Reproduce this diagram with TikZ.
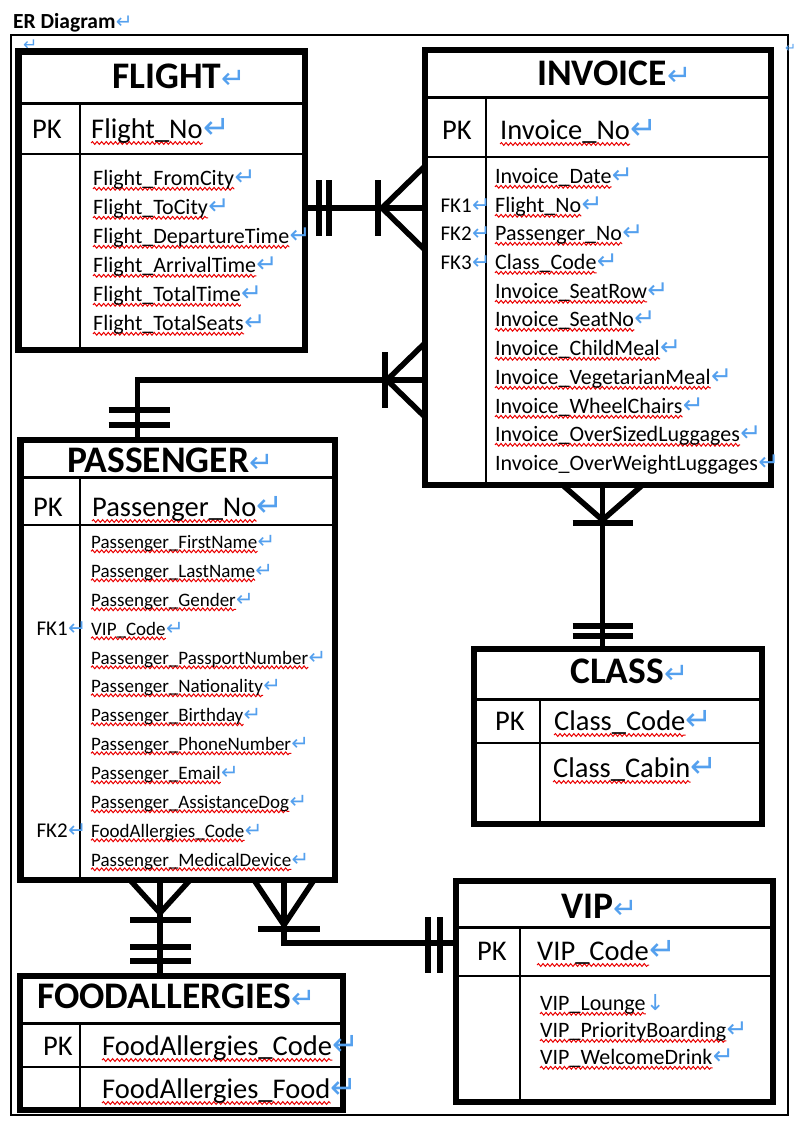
\documentclass[tikz,border=0pt]{standalone}
\usepackage{fontspec}
\setmainfont{Carlito}
\newfontfamily\retfont{DejaVu Sans}
\usetikzlibrary{calc, decorations.pathmorphing}
\definecolor{retcol}{RGB}{84, 160, 238}
\definecolor{wavecol}{RGB}{235, 0, 0}
\tikzset{
  ent/.style   = {draw, fill=white, line width=6.5pt, inner sep=0pt, outer sep=0pt},
  rule/.style  = {line width=1.8pt},
  headrule/.style = {line width=3pt},
  rel/.style   = {line width=5.5pt},
  txt/.style   = {anchor=base west, inner sep=0pt, text depth=0pt},
  ttl/.style   = {txt, font=\fontsize{37.5}{40}\selectfont\bfseries},
  pkt/.style   = {txt, font=\fontsize{28.5}{32}\selectfont},
  att/.style   = {txt, font=\fontsize{22}{26}\selectfont},
  patt/.style  = {txt, font=\fontsize{19}{22}\selectfont},
  fk/.style    = {txt, anchor=base east, font=\fontsize{21}{24}\selectfont},
  squig/.style = {draw=wavecol, line width=1pt, decorate,
                  decoration={snake, amplitude=1.4pt, segment length=4.6pt}},
  % red spell-check line under a field name
  wavy/.style  = {append after command={\pgfextra{
                    \draw[squig] ([yshift=-#1]\tikzlastnode.base west)
                                 -- ([yshift=-#1]\tikzlastnode.base east);}}},
  % blue paragraph mark after a text
  ret/.style   = {append after command={\pgfextra{
                    \node[anchor=base west, inner sep=0pt, text=retcol,
                          font=\retfont\fontsize{#1}{#1}\selectfont]
                         at (\tikzlastnode.base east) {↵};}}},
  brk/.style   = {append after command={\pgfextra{
                    \node[anchor=base west, inner sep=0pt, text=retcol,
                          font=\retfont\fontsize{#1}{#1}\selectfont]
                         at (\tikzlastnode.base east) {↓};}}},
}

\begin{document}
\begin{tikzpicture}[x=1pt, y=-1pt]
  \useasboundingbox (0,0) rectangle (798,1122);

  %% ---------------- page frame ----------------
  \node[txt, font=\fontsize{21.5}{24}\selectfont\bfseries, ret=20] (heading) at (13,28) {ER Diagram};
  \draw[line width=1.5pt] (11,35) rectangle (788,1115);
  \node[txt, text=retcol, font=\retfont\fontsize{17}{17}\selectfont] (markl) at (23,50) {↵};
  \node[txt, text=retcol, font=\retfont\fontsize{13}{13}\selectfont] (markr) at (785,52) {↵};

  %% ---------------- relationships ----------------
  \coordinate (fi) at (0,208);
  \coordinate (ip) at (137.5,380);
  \coordinate (ic) at (602.5,0);
  \coordinate (pf) at (160,0);
  \coordinate (pv) at (284,943);

  \node[ent, minimum width=286.5pt, minimum height=298.5pt] (flight) at (161.75,200.75) {};
  \node[ent, minimum width=346pt, minimum height=435pt] (invoice) at (598,267.5) {};
  \node[ent, minimum width=314.5pt, minimum height=440pt] (passenger) at (177.75,660) {};
  \node[ent, minimum width=288pt, minimum height=175pt] (class) at (618,736.5) {};
  \node[ent, minimum width=317pt, minimum height=221pt] (vip) at (614.5,991.5) {};
  \node[ent, minimum width=323pt, minimum height=134pt] (food) at (181.5,1043) {};

  % flight -- invoice
  \draw[rel] (flight.east |- fi) -- (invoice.west |- fi);
  \draw[rel] ($(flight.east |- fi)+(14,-28)$) -- ++(0,56);
  \draw[rel] ($(flight.east |- fi)+(24,-28)$) -- ++(0,56);
  \draw[rel] ($(invoice.west |- fi)+(-47,-28)$) -- ++(0,56);
  \draw[rel] ($(invoice.west |- fi)+(0,-42)$) -- ++(-43,42) -- ++(43,42);

  % invoice -- passenger
  \draw[rel] (invoice.west |- ip) -- (ip) -- (ip |- passenger.north);
  \draw[rel] ($(invoice.west |- ip)+(-40,-28)$) -- ++(0,56);
  \draw[rel] ($(invoice.west |- ip)+(0,-37)$) -- ++(-38,37) -- ++(38,37);
  \draw[rel] ($(ip |- passenger.north)+(-29,-30)$) -- ++(61,0);
  \draw[rel] ($(ip |- passenger.north)+(-29,-15)$) -- ++(61,0);

  % invoice -- class
  \draw[rel] (ic |- invoice.south) -- (ic |- class.north);
  \draw[rel] ($(ic |- invoice.south)+(-40,0)$) -- ++(40,35) -- ++(40,-35);
  \draw[rel] ($(ic |- invoice.south)+(-30,38)$) -- ++(60,0);
  \draw[rel] ($(ic |- class.north)+(-30,-23)$) -- ++(60,0);
  \draw[rel] ($(ic |- class.north)+(-30,-13)$) -- ++(60,0);

  % passenger -- foodallergies
  \draw[rel] (pf |- passenger.south) -- (pf |- food.north);
  \draw[rel] ($(pf |- passenger.south)+(-30,0)$) -- ++(30,33) -- ++(30,-33);
  \draw[rel] ($(pf |- passenger.south)+(-30,40)$) -- ++(61,0);
  \draw[rel] ($(pf |- food.north)+(-30,-29)$) -- ++(61,0);
  \draw[rel] ($(pf |- food.north)+(-30,-15)$) -- ++(61,0);

  % passenger -- vip
  \draw[rel] (pv |- passenger.south) -- (pv) -- (vip.west |- pv);
  \draw[rel] ($(pv |- passenger.south)+(-30,0)$) -- ++(30,45) -- ++(30,-45);
  \draw[rel] ($(pv |- passenger.south)+(-26,49)$) -- ++(62,0);
  \draw[rel] ($(vip.west |- pv)+(-28,-26)$) -- ++(0,56);
  \draw[rel] ($(vip.west |- pv)+(-16,-26)$) -- ++(0,56);

  %% ---------------- tables, redrawn on top ----------------
  \draw[ent] (flight.north west) rectangle (flight.south east);
  \draw[ent] (invoice.north west) rectangle (invoice.south east);
  \draw[ent] (passenger.north west) rectangle (passenger.south east);
  \draw[ent] (class.north west) rectangle (class.south east);
  \draw[ent] (vip.north west) rectangle (vip.south east);
  \draw[ent] (food.north west) rectangle (food.south east);

  \draw[headrule] (18.5,103) -- (305,103);
  \draw[rule] (18.5,154) -- (305,154);
  \draw[rule] (80,103) -- (80,350);

  \draw[headrule] (425,97) -- (771,97);
  \draw[rule] (425,157) -- (771,157);
  \draw[rule] (486,97) -- (486,485);

  \draw[headrule] (20.5,477) -- (335,477);
  \draw[rule] (20.5,525) -- (335,525);
  \draw[rule] (80,477) -- (80,880);

  \draw[headrule] (474,699) -- (762,699);
  \draw[rule] (474,743) -- (762,743);
  \draw[rule] (540,699) -- (540,824);

  \draw[headrule] (456,927) -- (773,927);
  \draw[rule] (456,976) -- (773,976);
  \draw[rule] (520,927) -- (520,1102);

  \draw[headrule] (20,1023) -- (343,1023);
  \draw[rule] (20,1067) -- (343,1067);
  \draw[rule] (80,1023) -- (80,1110);

  %% ---------------- FLIGHT ----------------
  \node[ttl, ret=29] (flight-t) at (112,88) {FLIGHT};
  \node[pkt] (flight-pk) at (32,138) {PK};
  \node[pkt, wavy=5, ret=32] (flight-id) at (91,138) {Flight\_No};
  \node[att, wavy=3.8, ret=25] (flight-a1) at (93,185) {Flight\_FromCity};
  \node[att, wavy=3.8, ret=25] (flight-a2) at (93,214) {Flight\_ToCity};
  \node[att, wavy=3.8, ret=25] (flight-a3) at (93,243) {Flight\_DepartureTime};
  \node[att, wavy=3.8, ret=25] (flight-a4) at (93,272) {Flight\_ArrivalTime};
  \node[att, wavy=3.8, ret=25] (flight-a5) at (93,301) {Flight\_TotalTime};
  \node[att, wavy=3.8, ret=25] (flight-a6) at (93,330) {Flight\_TotalSeats};

  %% ---------------- INVOICE ----------------
  \node[ttl, ret=29] (invoice-t) at (537,85) {INVOICE};
  \node[pkt] (invoice-pk) at (442,139) {PK};
  \node[pkt, wavy=5, ret=32] (invoice-id) at (500,139) {Invoice\_No};
  \node[att, wavy=3.8, ret=25] (invoice-a1) at (495,183) {Invoice\_Date};
  \node[fk, ret=22] (invoice-fk1) at (472,212) {FK1};
  \node[att, wavy=3.8, ret=25] (invoice-a2) at (495,212) {Flight\_No};
  \node[fk, ret=22] (invoice-fk2) at (472,240) {FK2};
  \node[att, wavy=3.8, ret=25] (invoice-a3) at (495,240) {Passenger\_No};
  \node[fk, ret=22] (invoice-fk3) at (472,269) {FK3};
  \node[att, wavy=3.8, ret=25] (invoice-a4) at (495,269) {Class\_Code};
  \node[att, wavy=3.8, ret=25] (invoice-a5) at (495,298) {Invoice\_SeatRow};
  \node[att, wavy=3.8, ret=25] (invoice-a6) at (495,326) {Invoice\_SeatNo};
  \node[att, wavy=3.8, ret=25] (invoice-a7) at (495,355) {Invoice\_ChildMeal};
  \node[att, wavy=3.8, ret=25] (invoice-a8) at (495,384) {Invoice\_VegetarianMeal};
  \node[att, wavy=3.8, ret=25] (invoice-a9) at (495,413) {Invoice\_WheelChairs};
  \node[att, wavy=3.8, ret=25] (invoice-a10) at (495,441) {Invoice\_OverSizedLuggages};
  \node[att, ret=25] (invoice-a11) at (495,470) {Invoice\_OverWeightLuggages};

  %% ---------------- PASSENGER ----------------
  \node[ttl, ret=29] (passenger-t) at (67,472) {PASSENGER};
  \node[pkt] (passenger-pk) at (33,516) {PK};
  \node[pkt, wavy=5, ret=32] (passenger-id) at (92,516) {Passenger\_No};
  \node[patt, wavy=3.3, ret=21] (passenger-a1) at (91,548) {Passenger\_FirstName};
  \node[patt, wavy=3.3, ret=21] (passenger-a2) at (91,577) {Passenger\_LastName};
  \node[patt, wavy=3.3, ret=21] (passenger-a3) at (91,606) {Passenger\_Gender};
  \node[fk, ret=22] (passenger-fk1) at (68,635) {FK1};
  \node[patt, wavy=3.3, ret=21] (passenger-a4) at (91,635) {VIP\_Code};
  \node[patt, wavy=3.3, ret=21] (passenger-a5) at (91,664) {Passenger\_PassportNumber};
  \node[patt, wavy=3.3, ret=21] (passenger-a6) at (91,692) {Passenger\_Nationality};
  \node[patt, wavy=3.3, ret=21] (passenger-a7) at (91,721) {Passenger\_Birthday};
  \node[patt, wavy=3.3, ret=21] (passenger-a8) at (91,750) {Passenger\_PhoneNumber};
  \node[patt, wavy=3.3, ret=21] (passenger-a9) at (91,779) {Passenger\_Email};
  \node[patt, wavy=3.3, ret=21] (passenger-a10) at (91,808) {Passenger\_AssistanceDog};
  \node[fk, ret=22] (passenger-fk2) at (68,837) {FK2};
  \node[patt, wavy=3.3, ret=21] (passenger-a11) at (91,837) {FoodAllergies\_Code};
  \node[patt, wavy=3.3, ret=21] (passenger-a12) at (91,866) {Passenger\_MedicalDevice};

  %% ---------------- CLASS ----------------
  \node[ttl, ret=29] (class-t) at (570,683) {CLASS};
  \node[pkt] (class-pk) at (495,730) {PK};
  \node[pkt, wavy=5, ret=32] (class-id) at (554,730) {Class\_Code};
  \node[pkt, wavy=5, ret=32] (class-a1) at (553,777) {Class\_Cabin};

  %% ---------------- VIP ----------------
  \node[ttl, ret=29] (vip-t) at (561,918) {VIP};
  \node[pkt] (vip-pk) at (477,960) {PK};
  \node[pkt, wavy=5, ret=32] (vip-id) at (537,960) {VIP\_Code};
  \node[att, wavy=3.8, brk=22] (vip-a1) at (540,1010) {VIP\_Lounge};
  \node[att, wavy=3.8, ret=25] (vip-a2) at (540,1037) {VIP\_PriorityBoarding};
  \node[att, wavy=3.8, ret=25] (vip-a3) at (540,1064) {VIP\_WelcomeDrink};

  %% ---------------- FOODALLERGIES ----------------
  \node[ttl, ret=29] (food-t) at (37,1008) {FOODALLERGIES};
  \node[pkt] (food-pk) at (43,1055) {PK};
  \node[pkt, wavy=5, ret=32] (food-id) at (102,1055) {FoodAllergies\_Code};
  \node[pkt, wavy=5, ret=32] (food-a1) at (102,1098) {FoodAllergies\_Food};

\end{tikzpicture}
\end{document}
